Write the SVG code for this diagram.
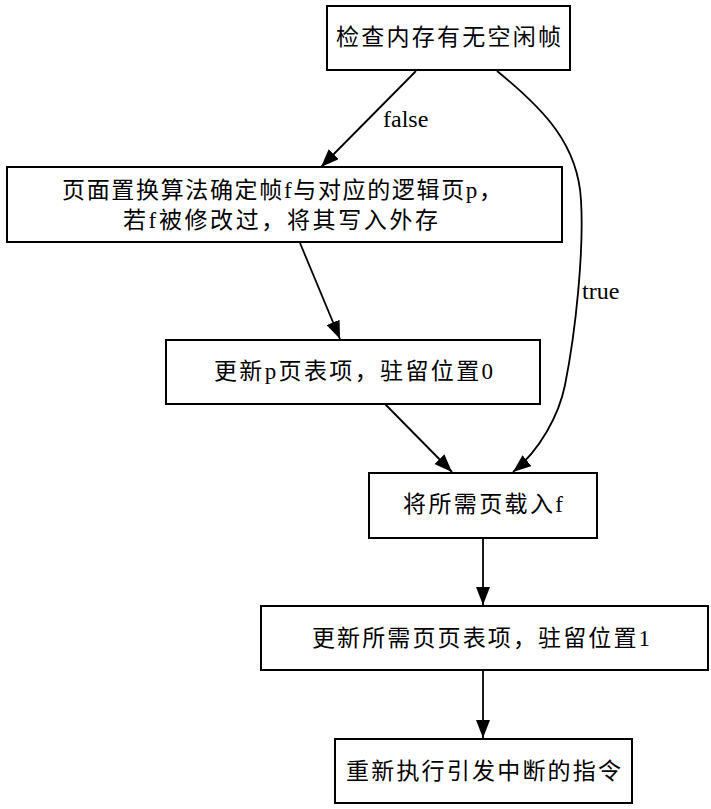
<svg xmlns="http://www.w3.org/2000/svg" width="711" height="809" viewBox="0 0 711 809">
<style>
.box{fill:#ffffff;stroke:#000000;stroke-width:2}
.t{font-family:"Liberation Serif","Noto Sans CJK SC",serif;font-size:23px;fill:#000000}
.lbl{font-family:"Liberation Serif",serif;font-size:24px;fill:#000000}
.e{fill:none;stroke:#000000;stroke-width:1.8;marker-end:url(#arr)}
</style>
<defs>
<marker id="arr" markerUnits="userSpaceOnUse" markerWidth="18" markerHeight="14" refX="18" refY="7" orient="auto">
<path d="M0,0 L18,7 L0,14 z" fill="#000000"/>
</marker>
</defs>
<rect width="711" height="809" fill="#ffffff"/>
<g id="edges">
<line class="e" x1="416" y1="71" x2="321" y2="167"/>
<path class="e" d="M497,71 C545,110 578,145 581,200 C584,250 576,330 565,385 C559,415 540,450 513,472"/>
<line class="e" x1="300" y1="243" x2="340" y2="339"/>
<line class="e" x1="385" y1="404" x2="452" y2="472"/>
<line class="e" x1="483" y1="538" x2="483" y2="605"/>
<line class="e" x1="483" y1="670" x2="483" y2="738"/>
<text class="lbl" x="383" y="127">false</text>
<text class="lbl" x="582" y="299">true</text>
</g>
<g id="n1">
<rect class="box" x="327" y="6" width="243" height="64"/>
<text class="t" x="336" y="45" textLength="225" lengthAdjust="spacing">检查内存有无空闲帧</text>
</g>
<g id="n2">
<rect class="box" x="7" y="167" width="555" height="75"/>
<text class="t" x="62" y="198" textLength="440" lengthAdjust="spacing">页面置换算法确定帧f与对应的逻辑页p，</text>
<text class="t" x="123" y="228" textLength="315" lengthAdjust="spacing">若f被修改过，将其写入外存</text>
</g>
<g id="n3">
<rect class="box" x="166" y="340" width="374" height="64"/>
<text class="t" x="214" y="379" textLength="279" lengthAdjust="spacing">更新p页表项，驻留位置0</text>
</g>
<g id="n4">
<rect class="box" x="369" y="473" width="228" height="65"/>
<text class="t" x="403" y="512" textLength="160" lengthAdjust="spacing">将所需页载入f</text>
</g>
<g id="n5">
<rect class="box" x="261" y="606" width="447" height="64"/>
<text class="t" x="312" y="646" textLength="338" lengthAdjust="spacing">更新所需页页表项，驻留位置1</text>
</g>
<g id="n6">
<rect class="box" x="335" y="739" width="297" height="64"/>
<text class="t" x="346" y="779" textLength="275" lengthAdjust="spacing">重新执行引发中断的指令</text>
</g>
</svg>
